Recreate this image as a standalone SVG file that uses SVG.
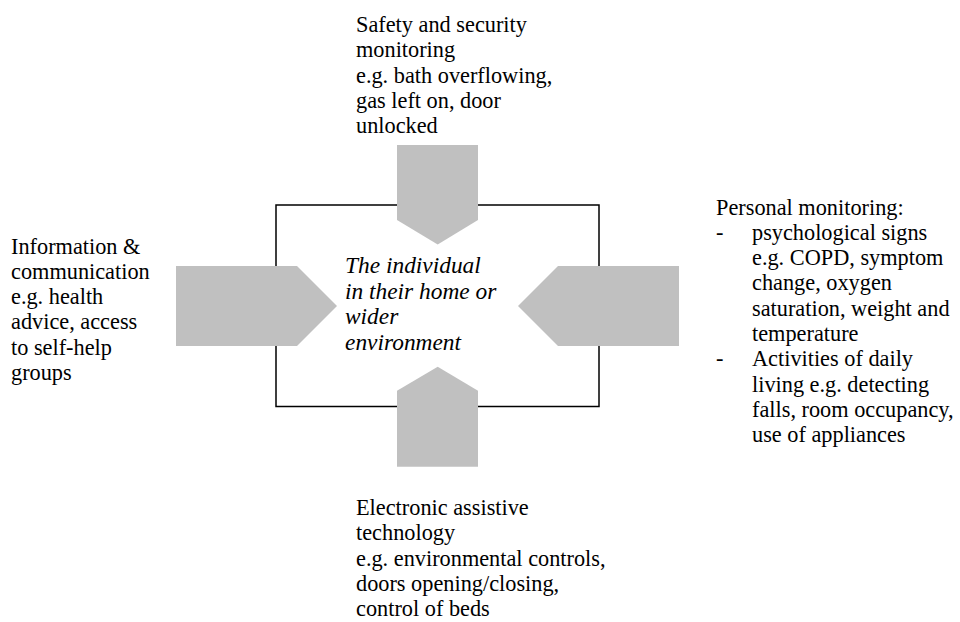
<svg xmlns="http://www.w3.org/2000/svg" width="960" height="622" viewBox="0 0 960 622">
  <style>
    text { font-family: "Liberation Serif", "Times New Roman", serif; font-size: 22.3px; fill: #000; }
    .it { font-style: italic; font-size: 23.4px; }
    .box { fill: none; stroke: #000; stroke-width: 1.5; }
    .arrow { fill: #c0c0c0; stroke: none; }
  </style>
  <rect width="960" height="622" fill="#fff"/>

  <g id="center">
    <rect class="box" x="276" y="205" width="323" height="201.5"/>
  </g>

  <g id="connectors">
    <polygon class="arrow" points="397,145 478,145 478,220 437.7,244.5 397,220"/>
    <polygon class="arrow" points="437.7,366.7 478,390.7 478,466.7 397,466.7 397,390.7"/>
    <polygon class="arrow" points="176,266 297,266 337,306 297,346 176,346"/>
    <polygon class="arrow" points="679,266 558,266 518,306 558,346 679,346"/>
  </g>

  <g id="center-label">
    <text class="it" x="345" y="273">The individual</text>
    <text class="it" x="345" y="298.5">in their home or</text>
    <text class="it" x="345" y="324">wider</text>
    <text class="it" x="345" y="349.5">environment</text>
  </g>

  <g id="safety">
    <text x="356" y="32">Safety and security</text>
    <text x="356" y="57.3">monitoring</text>
    <text x="356" y="82.6">e.g. bath overflowing,</text>
    <text x="356" y="108">gas left on, door</text>
    <text x="356" y="133.3">unlocked</text>
  </g>

  <g id="information">
    <text x="11" y="253.5">Information &amp;</text>
    <text x="11" y="278.8">communication</text>
    <text x="11" y="304.1">e.g. health</text>
    <text x="11" y="329.4">advice, access</text>
    <text x="11" y="354.7">to self-help</text>
    <text x="11" y="380">groups</text>
  </g>

  <g id="personal">
    <text x="716" y="214.5">Personal monitoring:</text>
    <text x="716" y="239.8">-</text>
    <text x="752" y="239.8">psychological signs</text>
    <text x="752" y="265.1">e.g. COPD, symptom</text>
    <text x="752" y="290.4">change, oxygen</text>
    <text x="752" y="315.7">saturation, weight and</text>
    <text x="752" y="341">temperature</text>
    <text x="716" y="366.3">-</text>
    <text x="752" y="366.3">Activities of daily</text>
    <text x="752" y="391.6">living e.g. detecting</text>
    <text x="752" y="416.9">falls, room occupancy,</text>
    <text x="752" y="442.2">use of appliances</text>
  </g>

  <g id="electronic">
    <text x="356" y="515">Electronic assistive</text>
    <text x="356" y="540.3">technology</text>
    <text x="356" y="565.6">e.g. environmental controls,</text>
    <text x="356" y="590.9">doors opening/closing,</text>
    <text x="356" y="616.2">control of beds</text>
  </g>
</svg>
